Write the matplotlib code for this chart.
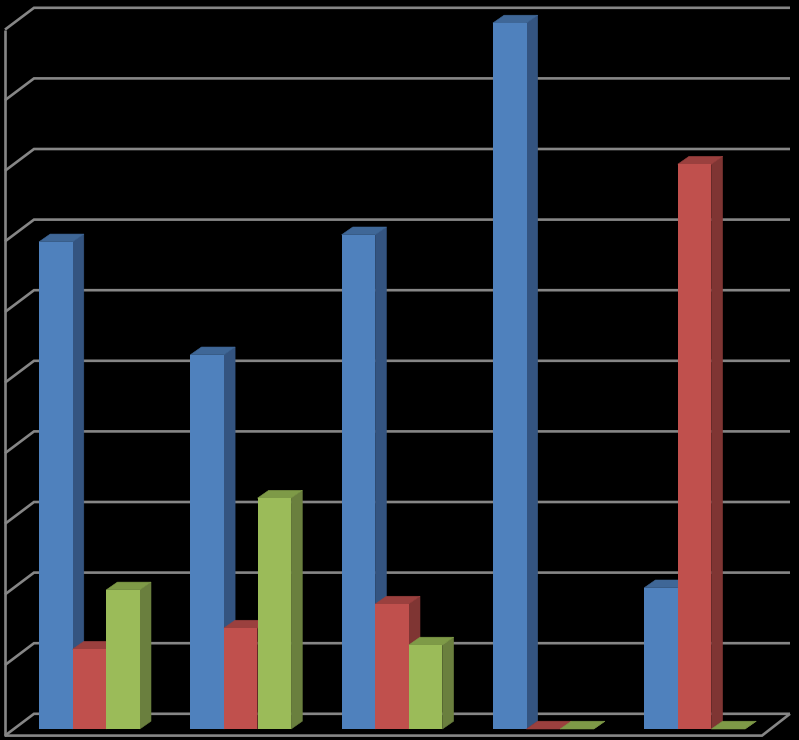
import matplotlib
matplotlib.use("Agg")
import matplotlib.pyplot as plt
from matplotlib.patches import Polygon

groups = [0, 1, 2, 3, 4]
blue = [69.0, 53.0, 70.0, 100.0, 20.0]
red = [11.3, 14.3, 17.7, 0.0, 80.0]
green = [19.7, 32.7, 11.9, 0.0, 0.0]
ticks = [0, 10, 20, 30, 40, 50, 60, 70, 80, 90, 100]

series = [
    (blue, "#4F81BD", "#3F6797", "#345480"),
    (red, "#C0504D", "#9B403E", "#7F3533"),
    (green, "#9BBB59", "#7E9A47", "#6A7F3E"),
]

W, H = 799, 740
PX_X = 151.3   # pixels per category
PX_Y = 7.06    # pixels per value unit
X0 = 89.4      # pixel of first category centre
Y0 = 729.0     # pixel of value 0
bar_w = 33.6 / PX_X
dx = 11.2 / PX_X
dy = 7.8 / PX_Y

fig = plt.figure(figsize=(W / 100, H / 100), dpi=100, facecolor="black")
ax = fig.add_axes([0, 0, 1, 1], facecolor="black")
ax.set_xlim(-X0 / PX_X, (W - X0) / PX_X)
ax.set_ylim((Y0 - H) / PX_Y, Y0 / PX_Y)
ax.axis("off")

# wall / floor frame
fx = (5 - X0) / PX_X       # wall front x
bx = (34 - X0) / PX_X      # wall back x
rfx = (762 - X0) / PX_X    # floor right front x
rbx = (790 - X0) / PX_X    # floor right back x
fy = -6.6 / PX_Y           # front offset from tick value
by = 15.2 / PX_Y           # back offset from tick value
line = dict(color="#868686", lw=1.9, solid_capstyle="butt",
            solid_joinstyle="miter", zorder=1)
for t in ticks:
    ax.plot([fx, bx, rbx], [t + fy, t + by, t + by], **line)
ax.plot([fx, fx], [ticks[0] + fy, ticks[-1] + fy], **line)
ax.plot([fx, rfx, rbx], [ticks[0] + fy, ticks[0] + fy, ticks[0] + by], **line)

# bars: front via ax.bar, side and top derived from each value
z = 2
for g in groups:
    for k, (vals, front, top, side) in enumerate(series):
        v = vals[g]
        left = g + (k - 1.5) * bar_w
        right = left + bar_w
        ax.add_patch(Polygon([(right, 0), (right + dx, dy), (right + dx, v + dy), (right, v)],
                             closed=True, fc=side, ec=side, lw=0.4, zorder=z))
        ax.add_patch(Polygon([(left, v), (right, v), (right + dx, v + dy), (left + dx, v + dy)],
                             closed=True, fc=top, ec=top, lw=0.4, zorder=z))
        ax.bar(left, v, width=bar_w, align="edge", color=front, linewidth=0, zorder=z + 0.5)
        z += 1

fig.savefig("out.png", dpi=100, facecolor="black")
